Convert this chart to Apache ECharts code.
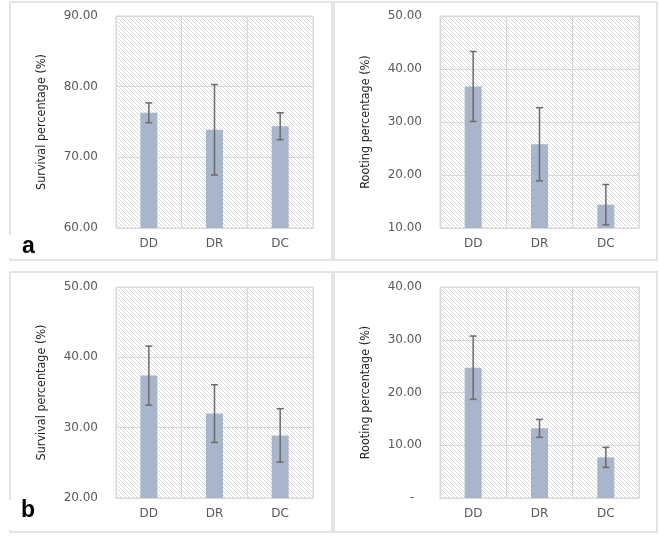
<!DOCTYPE html>
<html>
<head>
<meta charset="utf-8">
<script src="https://cdn.jsdelivr.net/npm/echarts@6/dist/echarts.min.js"></script>
<style>
  html, body { margin: 0; padding: 0; background: #fff; }
  #chart { width: 659px; height: 550px; }
</style>
</head>
<body>
<div id="chart"></div>
<script>
var categories = ['DD', 'DR', 'DC'];

// panel a
var survivalA = [76.3, 73.9, 74.4];
var survivalAErr = [1.4, 6.4, 1.9];
var rootingA = [36.7, 25.8, 14.4];
var rootingAErr = [6.6, 6.9, 3.8];

// panel b
var survivalB = [37.4, 32.0, 28.9];
var survivalBErr = [4.2, 4.1, 3.8];
var rootingB = [24.7, 13.2, 7.7];
var rootingBErr = [6.0, 1.7, 1.9];

// y axis ranges [min, max]
var rangeSurvA = [60, 90];
var rangeRootA = [10, 50];
var rangeSurvB = [20, 50];
var rangeRootB = [0, 40];

var chart = echarts.init(document.getElementById('chart'));

// diagonal hatch for plot background
function hatch() {
  var c = document.createElement('canvas');
  c.width = 4;
  c.height = 4;
  var ctx = c.getContext('2d');
  ctx.fillStyle = '#ffffff';
  ctx.fillRect(0, 0, 4, 4);
  ctx.strokeStyle = '#dadada';
  ctx.lineWidth = 1;
  ctx.beginPath();
  ctx.moveTo(-1, -1);
  ctx.lineTo(5, 5);
  ctx.stroke();
  return { image: c, repeat: 'repeat' };
}
var pattern = hatch();

var labelFont = 'DejaVu Sans';
var nameFont = "'Liberation Sans Narrow', 'DejaVu Sans Condensed', sans-serif";
var gridLine = '#d9d9d9';

var grids = [
  { left: 116, top: 16, width: 197, height: 212 },
  { left: 440, top: 16, width: 199, height: 212 },
  { left: 116, top: 287, width: 197, height: 211 },
  { left: 440, top: 287, width: 199, height: 211 }
];

var panels = [
  { name: 'Survival percentage (%)', range: rangeSurvA, values: survivalA, errs: survivalAErr },
  { name: 'Rooting percentage (%)', range: rangeRootA, values: rootingA, errs: rootingAErr },
  { name: 'Survival percentage (%)', range: rangeSurvB, values: survivalB, errs: survivalBErr },
  { name: 'Rooting percentage (%)', range: rangeRootB, values: rootingB, errs: rootingBErr }
];

var xAxes = [], yAxes = [], series = [];

panels.forEach(function(p, i) {
  xAxes.push({
    type: 'category',
    gridIndex: i,
    data: categories,
    axisTick: { show: false },
    axisLine: { lineStyle: { color: gridLine } },
    axisLabel: { color: '#595959', fontFamily: labelFont, fontSize: 12, margin: 10 },
    splitLine: { show: true, interval: 0, lineStyle: { color: gridLine, width: 1 } }
  });
  yAxes.push({
    type: 'value',
    gridIndex: i,
    min: p.range[0],
    max: p.range[1],
    interval: 10,
    name: p.name,
    nameLocation: 'middle',
    nameGap: 68,
    nameTextStyle: { color: '#262626', fontFamily: nameFont, fontSize: 12.5 },
    axisLine: { show: false },
    axisTick: { show: false },
    axisLabel: {
      color: '#595959',
      fontFamily: labelFont,
      fontSize: 12,
      margin: 18,
      formatter: function(v) {
        return v === 0 ? '-  ' : v.toFixed(2);
      }
    },
    splitLine: { lineStyle: { color: gridLine, width: 1 } }
  });

  series.push({
    type: 'bar',
    xAxisIndex: i,
    yAxisIndex: i,
    data: p.values,
    barWidth: 17,
    itemStyle: { color: '#a9b5ca' },
    silent: true
  });

  var errData = p.values.map(function(v, k) {
    return [k, v - p.errs[k], v + p.errs[k]];
  });
  series.push({
    type: 'custom',
    xAxisIndex: i,
    yAxisIndex: i,
    data: errData,
    silent: true,
    z: 5,
    renderItem: function(params, api) {
      var lo = api.coord([api.value(0), api.value(1)]);
      var hi = api.coord([api.value(0), api.value(2)]);
      var w = 3.5;
      var st = { stroke: '#6b6b6b', lineWidth: 1.5 };
      return {
        type: 'group',
        children: [
          { type: 'line', shape: { x1: hi[0], y1: hi[1], x2: lo[0], y2: lo[1] }, style: st },
          { type: 'line', shape: { x1: hi[0] - w, y1: hi[1], x2: hi[0] + w, y2: hi[1] }, style: st },
          { type: 'line', shape: { x1: lo[0] - w, y1: lo[1], x2: lo[0] + w, y2: lo[1] }, style: st }
        ]
      };
    }
  });
});

var option = {
  animation: false,
  backgroundColor: '#ffffff',
  grid: grids.map(function(g) {
    return {
      left: g.left, top: g.top, width: g.width, height: g.height,
      show: true,
      backgroundColor: pattern,
      borderColor: gridLine,
      borderWidth: 1
    };
  }),
  xAxis: xAxes,
  yAxis: yAxes,
  series: series,
  graphic: [
    { type: 'rect', z: 0, shape: { x: 10, y: 2, width: 322, height: 258 }, style: { fill: 'none', stroke: '#dcdcdc', lineWidth: 1.5 } },
    { type: 'rect', z: 0, shape: { x: 334, y: 2, width: 323, height: 258 }, style: { fill: 'none', stroke: '#dcdcdc', lineWidth: 1.5 } },
    { type: 'rect', z: 0, shape: { x: 10, y: 272, width: 322, height: 260 }, style: { fill: 'none', stroke: '#dcdcdc', lineWidth: 1.5 } },
    { type: 'rect', z: 0, shape: { x: 334, y: 272, width: 323, height: 260 }, style: { fill: 'none', stroke: '#dcdcdc', lineWidth: 1.5 } },
    { type: 'rect', z: 1, shape: { x: 4, y: 235, width: 38, height: 23 }, style: { fill: '#ffffff' } },
    { type: 'rect', z: 1, shape: { x: 4, y: 500, width: 38, height: 30 }, style: { fill: '#ffffff' } },
    { type: 'text', z: 2, left: 22, top: 235, style: { text: 'a', fill: '#000', font: 'bold 23px "Liberation Sans", sans-serif' } },
    { type: 'text', z: 2, left: 21, top: 499, style: { text: 'b', fill: '#000', font: 'bold 23px "Liberation Sans", sans-serif' } }
  ]
};

chart.setOption(option);
</script>
</body>
</html>
